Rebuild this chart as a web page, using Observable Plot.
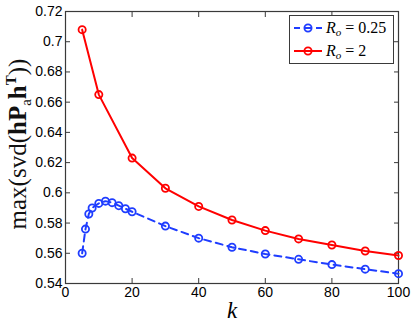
<!DOCTYPE html>
<html><head><meta charset="utf-8">
<script src="https://cdn.jsdelivr.net/npm/d3@7"></script>
<script src="https://cdn.jsdelivr.net/npm/@observablehq/plot@0.6"></script>
<style>html,body{margin:0;padding:0;background:#fff;} #c{width:415px;height:327px;}</style>
</head><body><div id="c"></div>
<script>
const kBlue = [5, 6, 7, 8, 10, 12, 14, 16, 18, 20, 30, 40, 50, 60, 70, 80, 90, 100];
const vBlue = [0.560, 0.576, 0.586, 0.590, 0.593, 0.5945, 0.5935, 0.5915, 0.5895, 0.5875, 0.578, 0.570, 0.564, 0.5595, 0.556, 0.5525, 0.5495, 0.5465];
const kRed = [5, 10, 20, 30, 40, 50, 60, 70, 80, 90, 100];
const vRed = [0.708, 0.665, 0.623, 0.603, 0.591, 0.582, 0.575, 0.5695, 0.5655, 0.5615, 0.5585];
const xTicks = [0, 20, 40, 60, 80, 100];
const yTicks = [0.54, 0.56, 0.58, 0.6, 0.62, 0.64, 0.66, 0.68, 0.7, 0.72];
const seriesNames = ["R_o = 0.25", "R_o = 2"];

const blue = kBlue.map((k, i) => ({k, v: vBlue[i]}));
const red = kRed.map((k, i) => ({k, v: vRed[i]}));
const BLUE = "#1f3dff", RED = "#ff0000", AX = "#3a3a3a";
const fmtY = d => String(+d.toFixed(2));

const plot = Plot.plot({
  width: 415, height: 327,
  marginLeft: 65, marginRight: 17, marginTop: 11, marginBottom: 44,
  x: {domain: [0, 100]},
  y: {domain: [0.54, 0.72]},
  style: {fontFamily: "'Liberation Sans', Arial, sans-serif", fontSize: "14px", color: "#000", background: "#fff"},
  marks: [
    Plot.axisX({ticks: xTicks, tickSize: -5, tickPadding: 9, label: null, stroke: AX, tickFormat: d => d}),
    Plot.axisX({anchor: "top", ticks: xTicks, tickSize: -5, label: null, stroke: AX, tickFormat: () => ""}),
    Plot.axisY({ticks: yTicks, tickSize: -5, tickPadding: 8, label: null, stroke: AX, tickFormat: fmtY}),
    Plot.axisY({anchor: "right", ticks: yTicks, tickSize: -5, label: null, stroke: AX, tickFormat: () => ""}),
    Plot.frame({stroke: AX, strokeWidth: 1.2}),
    Plot.line(red, {x: "k", y: "v", stroke: RED, strokeWidth: 2}),
    Plot.dot(red, {x: "k", y: "v", r: 3.6, stroke: RED, strokeWidth: 1.8, fill: "none"}),
    Plot.line(blue, {x: "k", y: "v", stroke: BLUE, strokeWidth: 2, strokeDasharray: "7,5"}),
    Plot.dot(blue, {x: "k", y: "v", r: 3.6, stroke: BLUE, strokeWidth: 1.8, fill: "none"})
  ]
});
document.getElementById("c").append(plot);

const svg = d3.select(plot);
const serif = "'Liberation Serif', 'DejaVu Serif', serif";
// y label
const yl = svg.append("text")
  .attr("transform", "translate(26,144) rotate(-90)")
  .attr("text-anchor", "middle")
  .attr("font-family", serif).attr("font-size", 25).attr("fill", "#111");
yl.append("tspan").text("max(svd(");
yl.append("tspan").attr("font-weight", "bold").text("hP");
yl.append("tspan").attr("font-size", 15).attr("dy", 5).text("a");
yl.append("tspan").attr("font-weight", "bold").attr("dy", -5).text("h");
yl.append("tspan").attr("font-weight", "bold").attr("font-size", 15).attr("dy", -10).text("T");
yl.append("tspan").attr("dy", 10).text("))");
// x label
svg.append("text").attr("x", 232).attr("y", 318).attr("text-anchor", "middle")
  .attr("font-family", serif).attr("font-style", "italic").attr("font-size", 23).attr("fill", "#000").text("k");

// legend
const lg = svg.append("g");
lg.append("rect").attr("x", 289.5).attr("y", 15.5).attr("width", 104).attr("height", 48)
  .attr("fill", "#fff").attr("stroke", AX).attr("stroke-width", 1);
const entries = [{name: seriesNames[0], color: BLUE, dash: "6,5", y: 28}, {name: seriesNames[1], color: RED, dash: null, y: 51}];
entries.forEach(e => {
  lg.append("line").attr("x1", 294).attr("x2", 322).attr("y1", e.y).attr("y2", e.y)
    .attr("stroke", e.color).attr("stroke-width", 2).attr("stroke-dasharray", e.dash);
  lg.append("circle").attr("cx", 308).attr("cy", e.y).attr("r", 3.6).attr("fill", "none")
    .attr("stroke", e.color).attr("stroke-width", 1.8);
  const [lhs, rhs] = e.name.split(" = ");
  const t = lg.append("text").attr("x", 326).attr("y", e.y + 5).attr("text-anchor", "start")
    .attr("font-family", serif).attr("font-size", 16).attr("fill", "#000");
  t.append("tspan").attr("font-style", "italic").text(lhs.split("_")[0]);
  t.append("tspan").attr("font-style", "italic").attr("font-size", 11).attr("dy", 3).text(lhs.split("_")[1]);
  t.append("tspan").attr("dy", -3).text(" = " + rhs);
});
</script></body></html>
